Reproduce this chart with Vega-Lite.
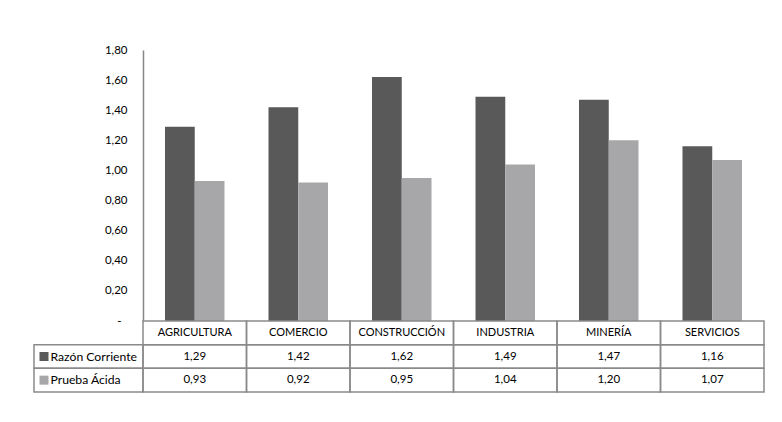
{
  "$schema": "https://vega.github.io/schema/vega-lite/v6.json",
  "padding": {"left": 33, "top": 44, "right": 0, "bottom": 0},
  "background": "white",
  "spacing": 0,
  "columns": 2,
  "bounds": "flush",
  "datasets": {
    "d": [
      {"c": "AGRICULTURA", "s": "Razón Corriente", "v": 1.29},
      {"c": "AGRICULTURA", "s": "Prueba Ácida", "v": 0.93},
      {"c": "COMERCIO", "s": "Razón Corriente", "v": 1.42},
      {"c": "COMERCIO", "s": "Prueba Ácida", "v": 0.92},
      {"c": "CONSTRUCCIÓN", "s": "Razón Corriente", "v": 1.62},
      {"c": "CONSTRUCCIÓN", "s": "Prueba Ácida", "v": 0.95},
      {"c": "INDUSTRIA", "s": "Razón Corriente", "v": 1.49},
      {"c": "INDUSTRIA", "s": "Prueba Ácida", "v": 1.04},
      {"c": "MINERÍA", "s": "Razón Corriente", "v": 1.47},
      {"c": "MINERÍA", "s": "Prueba Ácida", "v": 1.20},
      {"c": "SERVICIOS", "s": "Razón Corriente", "v": 1.16},
      {"c": "SERVICIOS", "s": "Prueba Ácida", "v": 1.07}
    ]
  },
  "config": {
    "view": {"stroke": null},
    "font": "Lato",
    "text": {"font": "Lato", "fontSize": 11.5, "color": "#000000"},
    "axis": {"labelFont": "Lato"}
  },
  "concat": [
    {
      "width": 109,
      "height": 271,
      "data": {"values": []},
      "mark": {"type": "point"},
      "encoding": {}
    },
    {
      "width": 621,
      "height": 271,
      "data": {"name": "d"},
      "mark": {"type": "bar"},
      "encoding": {
        "x": {"field": "c", "type": "nominal", "sort": null, "scale": {"paddingInner": 0.425, "paddingOuter": 0.2125}, "axis": null},
        "xOffset": {"field": "s", "type": "nominal", "sort": ["Razón Corriente", "Prueba Ácida"], "scale": {"paddingInner": 0, "paddingOuter": 0}},
        "y": {
          "field": "v", "type": "quantitative",
          "scale": {"domain": [0, 1.8], "nice": false},
          "axis": {
            "values": [0, 0.2, 0.4, 0.6, 0.8, 1.0, 1.2, 1.4, 1.6, 1.8],
            "labelExpr": "datum.value == 0 ? '-' : replace(format(datum.value, '.2f'), '.', ',')",
            "grid": false, "ticks": false, "tickSize": 0,
            "labelPadding": {"condition": {"test": "datum.value === 0", "value": 22}, "value": 16},
            "domainColor": "#868686", "domainWidth": 1.5,
            "labelFontSize": 11.5, "labelColor": "#000000",
            "title": null
          }
        },
        "color": {"field": "s", "type": "nominal", "scale": {"domain": ["Razón Corriente", "Prueba Ácida"], "range": ["#595959", "#a7a7a9"]}, "legend": null}
      }
    },
    {
      "width": 109,
      "height": 71,
      "data": {"name": "d"},
      "transform": [{"filter": "datum.c === 'AGRICULTURA'"}],
      "encoding": {"y": {"field": "s", "type": "nominal", "scale": {"domain": ["header", "Razón Corriente", "Prueba Ácida"], "paddingInner": 0, "paddingOuter": 0}, "axis": null}},
      "layer": [
        {
          "mark": {"type": "rect", "fill": "transparent", "stroke": "#8a8a8a", "strokeWidth": 1.5},
          "encoding": {"x": {"datum": 0, "type": "quantitative", "scale": {"domain": [0, 1]}, "axis": null}, "x2": {"datum": 1}}
        },
        {
          "mark": {"type": "square", "size": 81, "opacity": 1, "xOffset": 10},
          "encoding": {
            "x": {"datum": 0, "type": "quantitative"},
            "color": {"field": "s", "type": "nominal", "scale": {"domain": ["Razón Corriente", "Prueba Ácida"], "range": ["#595959", "#a7a7a9"]}, "legend": null}
          }
        },
        {
          "mark": {"type": "text", "align": "left", "dx": 16.5, "fontSize": 12.2},
          "encoding": {"x": {"datum": 0, "type": "quantitative"}, "text": {"field": "s"}}
        }
      ]
    },
    {
      "width": 621,
      "height": 71,
      "data": {"name": "d"},
      "encoding": {"x": {"field": "c", "type": "nominal", "sort": null, "scale": {"paddingInner": 0, "paddingOuter": 0}, "axis": null}},
      "layer": [
        {
          "mark": {"type": "rect", "fill": "transparent", "stroke": "#8a8a8a", "strokeWidth": 1.5},
          "encoding": {"y": {"field": "s", "type": "nominal", "scale": {"domain": ["header", "Razón Corriente", "Prueba Ácida"], "paddingInner": 0, "paddingOuter": 0}, "axis": null}}
        },
        {
          "transform": [{"filter": "datum.s === 'Razón Corriente'"}],
          "mark": {"type": "rect", "fill": "transparent", "stroke": "#8a8a8a", "strokeWidth": 1.5},
          "encoding": {"y": {"datum": "header", "type": "nominal"}}
        },
        {
          "transform": [{"calculate": "replace(format(datum.v, '.2f'), '.', ',')", "as": "t"}],
          "mark": {"type": "text"},
          "encoding": {"y": {"field": "s", "type": "nominal"}, "text": {"field": "t"}}
        },
        {
          "transform": [{"filter": "datum.s === 'Razón Corriente'"}],
          "mark": {"type": "text", "fontSize": 11},
          "encoding": {"y": {"datum": "header", "type": "nominal"}, "text": {"field": "c"}}
        }
      ]
    }
  ]
}
